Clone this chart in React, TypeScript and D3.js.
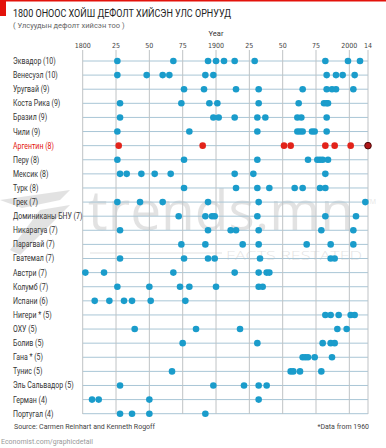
import * as d3 from "d3";

const countries = [
  "Эквадор (10)", "Венесуэл (10)", "Уругвай (9)", "Коста Рика (9)", "Бразил (9)",
  "Чили (9)", "Аргентин (8)", "Перу  (8)", "Мексик (8)", "Турк (8)",
  "Грек (7)", "Доминиканы БНУ (7)", "Никарагуа (7)", "Парагвай (7)", "Гватемал (7)",
  "Австри (7)", "Колумб (7)", "Испани (6)", "Нигери * (5)", "ОХУ (5)",
  "Болив (5)", "Гана * (5)", "Тунис (5)", "Эль Сальвадор (5)", "Герман (4)", "Португал (4)",
];

// default years read per row
const defaults = [
  [1826, 1868, 1894, 1900, 1906, 1914, 1929, 1982, 1999, 2008],
  [1826, 1848, 1860, 1865, 1892, 1898, 1983, 1990, 1995, 2004],
  [1876, 1891, 1915, 1932, 1965, 1983, 1987, 1990, 2003],
  [1828, 1874, 1895, 1901, 1932, 1962, 1981, 1983, 1984],
  [1828, 1898, 1902, 1914, 1931, 1937, 1961, 1964, 1983],
  [1826, 1880, 1931, 1961, 1963, 1965, 1972, 1974, 1983],
  [1827, 1890, 1951, 1956, 1982, 1989, 2001, 2014],
  [1826, 1876, 1931, 1969, 1976, 1978, 1980, 1984],
  [1828, 1833, 1844, 1854, 1866, 1914, 1928, 1982],
  [1876, 1915, 1931, 1940, 1959, 1965, 1978, 1982],
  [1826, 1843, 1860, 1894, 1932, 2012],
  [1872, 1892, 1897, 1899, 1931, 1982, 2005],
  [1828, 1894, 1911, 1915, 1932, 1979, 2003],
  [1874, 1892, 1920, 1932, 1968, 1986, 2003],
  [1828, 1876, 1894, 1899, 1933, 1986, 1989],
  [1802, 1816, 1868, 1914, 1932, 1938, 1940],
  [1826, 1850, 1873, 1880, 1900, 1932, 1935],
  [1809, 1820, 1831, 1837, 1851, 1877],
  [1982, 1986, 1992, 2001, 2004],
  [1839, 1885, 1918, 1991, 1998],
  [1875, 1931, 1980, 1986, 1989],
  [1965, 1967, 1969, 1974, 1987],
  [1867, 1956, 1958, 1963, 1979],
  [1828, 1898, 1921, 1932, 1938],
  [1807, 1812, 1850, 1932],
  [1828, 1837, 1850, 1892],
];

const tickYears = [1800, 1825, 1850, 1875, 1900, 1925, 1950, 1975, 2000, 2014];
const tickLabels = ["1800", "25", "50", "75", "1900", "25", "50", "75", "2000", "14"];
const highlight = "Аргентин (8)";

const narrow = "'Liberation Sans Narrow', 'Roboto', sans-serif";

export default function App() {
  const x = d3.scaleLinear().domain([1800, 2014]).range([82.7, 368]);
  const y = d3.scalePoint<string>().domain(countries).range([61, 413.7]);
  const gridTop = 50;
  const gridBottom = 414;

  return (
    <svg width={386} height={448} style={{ position: "absolute", left: 0, top: 0 }}>
      <rect width={386} height={448} fill="#fff" />
      {/* top red band */}
      <rect x={0} y={0} width={386} height={1.5} fill="#e3120b" />
      <rect x={0} y={0} width={6} height={16} fill="#e3120b" />

      <text x={13} y={17} fontFamily={narrow} fontSize={11} fill="#222"
        textLength={218} lengthAdjust="spacingAndGlyphs">
        1800 ОНООС ХОЙШ ДЕФОЛТ ХИЙСЭН УЛС ОРНУУД
      </text>
      <text x={13} y={28} fontFamily={narrow} fontSize={7.5} fill="#666">
        ( Улсуудын дефолт хийсэн тоо )
      </text>

      {/* watermark */}
      <g opacity={0.11} fill="#000">
        <text x={88} y={230} fontFamily="'Open Sans', sans-serif" fontSize={54} textLength={266}
          lengthAdjust="spacingAndGlyphs">trends.mn</text>
        <text x={366} y={204} fontFamily="'Open Sans', sans-serif" fontSize={7}>TM</text>
        <text x={226} y={260} fontFamily="'Open Sans', sans-serif" fontSize={12} fontWeight={300}
          textLength={136} lengthAdjust="spacingAndGlyphs">FACTS RESTATED</text>
        <line x1={90} x2={222} y1={253} y2={253} stroke="#000" strokeWidth={1} />
        <path d="M0,200 L70,190 L60,200 L22,208 Z M40,210 L70,205 L20,255 L10,250 Z" />
      </g>

      <text x={x(1900)} y={36} textAnchor="middle" fontFamily={narrow} fontSize={7.5} fill="#333">
        Year
      </text>

      {/* horizontal row lines */}
      {countries.map((c) => (
        <line key={"h" + c} x1={x(1800)} x2={x(2014)} y1={y(c)} y2={y(c)}
          stroke="#a9c6d6" strokeWidth={1} />
      ))}

      {/* vertical grid */}
      {tickYears.map((t, i) => (
        <g key={"v" + i}>
          <line x1={x(t)} x2={x(t)} y1={gridTop} y2={gridBottom} stroke="#bfc3c6" strokeWidth={1} />
          <text x={x(t)} y={48} textAnchor="middle" fontFamily="'DejaVu Sans Condensed', 'DejaVu Sans', sans-serif"
            fontSize={7} fill="#444">{tickLabels[i]}</text>
        </g>
      ))}

      {/* country labels, squeezed to match the condensed face */}
      <g transform="translate(13,0) scale(0.82,1)">
        {countries.map((c) => (
          <text key={"l" + c} x={0} y={(y(c) as number) + 3} fontFamily={narrow} fontSize={8.5}
            fill={c === highlight ? "#e3120b" : "#333"}>{c}</text>
        ))}
      </g>

      {/* dots */}
      {countries.map((c, i) =>
        defaults[i].map((yr, j) => {
          const red = c === highlight;
          const last = red && yr === 2014;
          return (
            <circle key={c + j} cx={x(yr)} cy={y(c)} r={3.3}
              fill={last ? "#b0181a" : red ? "#e2231a" : "#1a9ccb"}
              stroke={last ? "#4a0b0b" : "none"} strokeWidth={last ? 1 : 0} />
          );
        })
      )}

      <text x={14} y={429} fontFamily={narrow} fontSize={7} fill="#444">
        Source: Carmen Reinhart and Kenneth Rogoff
      </text>
      <text x={369} y={429} textAnchor="end" fontFamily={narrow} fontSize={7} fill="#444">
        *Data from 1960
      </text>
      <text x={1} y={444} fontFamily={narrow} fontSize={7} fill="#999">
        Economist.com/graphicdetail
      </text>
    </svg>
  );
}
